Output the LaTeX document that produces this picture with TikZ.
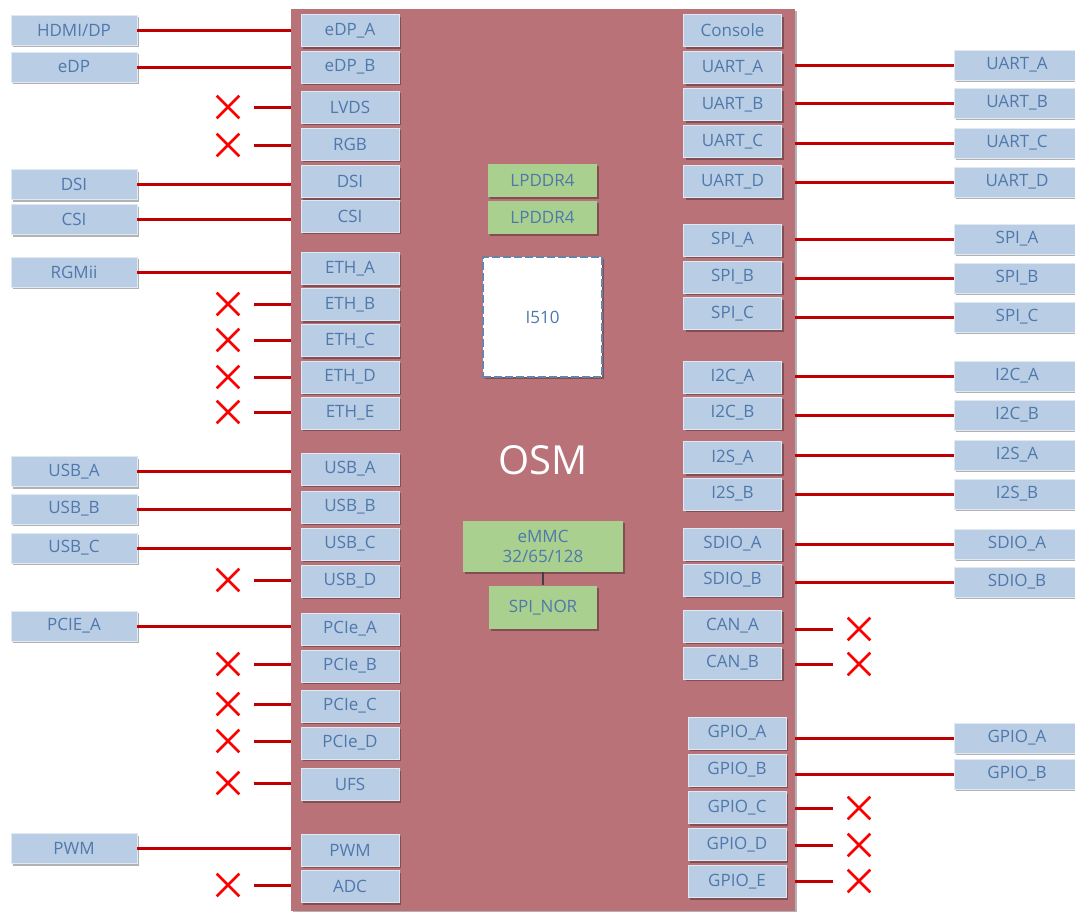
\documentclass[tikz,border=0pt]{standalone}
\usepackage{fontspec}
\setmainfont{Open Sans}
\usepackage{xcolor}
\usepackage{tikz}
\usetikzlibrary{positioning,shapes.misc,shadows}

\definecolor{osmred}{RGB}{185,114,119}
\definecolor{portblue}{RGB}{185,205,229}
\definecolor{txtblue}{RGB}{79,120,172}
\definecolor{memgreen}{RGB}{169,208,142}
\definecolor{wirered}{RGB}{192,0,0}
\definecolor{xred}{RGB}{250,0,0}
\definecolor{dashblue}{RGB}{100,132,172}

\begin{document}
\begin{tikzpicture}[
  x=0.5pt, y=-0.5pt,
  font=\fontsize{8.5}{10}\selectfont,
  boxshadow/.style={drop shadow={shadow xshift=1.2pt,shadow yshift=-1.2pt,opacity=0.3,fill=black}},
  osm/.style={fill=osmred,text=white,minimum width=252pt,minimum height=451pt,
    font=\fontsize{20}{24}\selectfont,boxshadow},
  port/.style={fill=portblue,draw=white!55!portblue,line width=0.3pt,text=txtblue,
    minimum width=49pt,minimum height=16pt,inner sep=0pt,boxshadow},
  ext/.style={port,minimum width=63pt,minimum height=15pt},
  mem/.style={fill=memgreen,text=txtblue,minimum width=54.5pt,minimum height=16.5pt,
    inner sep=0pt,boxshadow},
  chip/.style={fill=white,draw=dashblue,line width=0.8pt,dash pattern=on 4pt off 1.5pt,
    text=txtblue,minimum width=59.5pt,minimum height=60pt,boxshadow},
  nc/.style={cross out,draw=xred,line width=1.3pt,minimum size=10pt,inner sep=0pt},
  wire/.style={wirered,line width=1.5pt},
  stub/.style={wire,shorten >=7.5pt},
  tie/.style={black!75,line width=0.6pt}
]
\useasboundingbox (0,0) rectangle (1075,911);

\node[osm] (osm) at (543,460) {OSM};

\node[mem] (ddrA) at (542.5,180.5) {LPDDR4};
\node[mem,below=1.5pt of ddrA] (ddrB) {LPDDR4};
\node[chip] (soc) at (542.5,317) {I510};
\node[mem,minimum width=80pt,minimum height=25.5pt,align=center] (emmc) at (543,546.5)
  {eMMC\\32/65/128};
\node[mem,minimum width=54pt,minimum height=21.5pt,below=6.5pt of emmc] (spinor) {SPI\_NOR};
\draw[tie] (emmc) -- (spinor);

\node[port] (edpA) at (350,30.5) {eDP\_A};
\node[port] (edpB) at (350,67) {eDP\_B};
\node[port] (lvds) at (350,107) {LVDS};
\node[port] (rgb) at (350,144) {RGB};
\node[port] (dsi) at (350,181.5) {DSI};
\node[port] (csi) at (350,216) {CSI};
\node[port] (ethA) at (350,268.5) {ETH\_A};
\node[port] (ethB) at (350,304.5) {ETH\_B};
\node[port] (ethC) at (350,340.5) {ETH\_C};
\node[port] (ethD) at (350,377) {ETH\_D};
\node[port] (ethE) at (350,413) {ETH\_E};
\node[port] (usbA) at (350,469) {USB\_A};
\node[port] (usbB) at (350,507) {USB\_B};
\node[port] (usbC) at (350,544) {USB\_C};
\node[port] (usbD) at (350,581) {USB\_D};
\node[port] (pcieA) at (350,629) {PCIe\_A};
\node[port] (pcieB) at (350,666) {PCIe\_B};
\node[port] (pcieC) at (350,706) {PCIe\_C};
\node[port] (pcieD) at (350,743) {PCIe\_D};
\node[port] (ufs) at (350,784.5) {UFS};
\node[port] (pwm) at (350,850) {PWM};
\node[port] (adc) at (350,886.5) {ADC};

\node[ext] (hdmiExt) at (74,30) {HDMI/DP};
\node[ext] (edpExt) at (74,67) {eDP};
\node[ext] (dsiExt) at (74,184.5) {DSI};
\node[ext] (csiExt) at (74,219.5) {CSI};
\node[ext] (rgmiiExt) at (74,272) {RGMii};
\node[ext] (usbAExt) at (74,471.5) {USB\_A};
\node[ext] (usbBExt) at (74,509) {USB\_B};
\node[ext] (usbCExt) at (74,548) {USB\_C};
\node[ext] (pcieExt) at (74,626) {PCIE\_A};
\node[ext] (pwmExt) at (74,848.5) {PWM};

\node[nc] (xLvds) at (228,107) {};
\node[nc] (xRgb) at (228,145) {};
\node[nc] (xEthB) at (228,304) {};
\node[nc] (xEthC) at (228,340) {};
\node[nc] (xEthD) at (228,377) {};
\node[nc] (xEthE) at (228,412) {};
\node[nc] (xUsbD) at (228,580) {};
\node[nc] (xPcieB) at (228,664) {};
\node[nc] (xPcieC) at (228,704) {};
\node[nc] (xPcieD) at (228,741) {};
\node[nc] (xUfs) at (228,783) {};
\node[nc] (xAdc) at (228,885) {};

\draw[wire] (hdmiExt.east) -- (hdmiExt.east -| osm.west);
\draw[wire] (edpExt.east) -- (edpExt.east -| osm.west);
\draw[wire] (dsiExt.east) -- (dsiExt.east -| osm.west);
\draw[wire] (csiExt.east) -- (csiExt.east -| osm.west);
\draw[wire] (rgmiiExt.east) -- (rgmiiExt.east -| osm.west);
\draw[wire] (usbAExt.east) -- (usbAExt.east -| osm.west);
\draw[wire] (usbBExt.east) -- (usbBExt.east -| osm.west);
\draw[wire] (usbCExt.east) -- (usbCExt.east -| osm.west);
\draw[wire] (pcieExt.east) -- (pcieExt.east -| osm.west);
\draw[wire] (pwmExt.east) -- (pwmExt.east -| osm.west);

\draw[stub] (xLvds -| osm.west) -- (xLvds);
\draw[stub] (xRgb -| osm.west) -- (xRgb);
\draw[stub] (xEthB -| osm.west) -- (xEthB);
\draw[stub] (xEthC -| osm.west) -- (xEthC);
\draw[stub] (xEthD -| osm.west) -- (xEthD);
\draw[stub] (xEthE -| osm.west) -- (xEthE);
\draw[stub] (xUsbD -| osm.west) -- (xUsbD);
\draw[stub] (xPcieB -| osm.west) -- (xPcieB);
\draw[stub] (xPcieC -| osm.west) -- (xPcieC);
\draw[stub] (xPcieD -| osm.west) -- (xPcieD);
\draw[stub] (xUfs -| osm.west) -- (xUfs);
\draw[stub] (xAdc -| osm.west) -- (xAdc);

\node[port] (console) at (732.5,30.5) {Console};
\node[port] (uartA) at (732.5,67.5) {UART\_A};
\node[port] (uartB) at (732.5,104.5) {UART\_B};
\node[port] (uartC) at (732.5,141.5) {UART\_C};
\node[port] (uartD) at (732.5,181.5) {UART\_D};
\node[port] (spiA) at (732.5,240) {SPI\_A};
\node[port] (spiB) at (732.5,277) {SPI\_B};
\node[port] (spiC) at (732.5,313.5) {SPI\_C};
\node[port] (i2cA) at (732.5,377) {I2C\_A};
\node[port] (i2cB) at (732.5,413) {I2C\_B};
\node[port] (i2sA) at (732.5,457.5) {I2S\_A};
\node[port] (i2sB) at (732.5,494) {I2S\_B};
\node[port] (sdioA) at (732.5,544) {SDIO\_A};
\node[port] (sdioB) at (732.5,580) {SDIO\_B};
\node[port] (canA) at (732.5,626) {CAN\_A};
\node[port] (canB) at (732.5,663) {CAN\_B};
\node[port] (gpioA) at (737,733) {GPIO\_A};
\node[port] (gpioB) at (737,770) {GPIO\_B};
\node[port] (gpioC) at (737,807.5) {GPIO\_C};
\node[port] (gpioD) at (737,844.5) {GPIO\_D};
\node[port] (gpioE) at (737,881.5) {GPIO\_E};

\node[ext] (uartAExt) at (1017,65) {UART\_A};
\node[ext] (uartBExt) at (1017,103) {UART\_B};
\node[ext] (uartCExt) at (1017,143) {UART\_C};
\node[ext] (uartDExt) at (1017,182) {UART\_D};
\node[ext] (spiAExt) at (1017,239) {SPI\_A};
\node[ext] (spiBExt) at (1017,278) {SPI\_B};
\node[ext] (spiCExt) at (1017,317) {SPI\_C};
\node[ext] (i2cAExt) at (1017,376) {I2C\_A};
\node[ext] (i2cBExt) at (1017,415) {I2C\_B};
\node[ext] (i2sAExt) at (1017,455) {I2S\_A};
\node[ext] (i2sBExt) at (1017,494) {I2S\_B};
\node[ext] (sdioAExt) at (1017,544) {SDIO\_A};
\node[ext] (sdioBExt) at (1017,582) {SDIO\_B};
\node[ext] (gpioAExt) at (1017,738) {GPIO\_A};
\node[ext] (gpioBExt) at (1017,774) {GPIO\_B};

\node[nc] (xCanA) at (859,629) {};
\node[nc] (xCanB) at (859,664) {};
\node[nc] (xGpioC) at (859,808) {};
\node[nc] (xGpioD) at (859,845) {};
\node[nc] (xGpioE) at (859,881) {};

\draw[wire] (uartAExt.west -| osm.east) -- (uartAExt.west);
\draw[wire] (uartBExt.west -| osm.east) -- (uartBExt.west);
\draw[wire] (uartCExt.west -| osm.east) -- (uartCExt.west);
\draw[wire] (uartDExt.west -| osm.east) -- (uartDExt.west);
\draw[wire] (spiAExt.west -| osm.east) -- (spiAExt.west);
\draw[wire] (spiBExt.west -| osm.east) -- (spiBExt.west);
\draw[wire] (spiCExt.west -| osm.east) -- (spiCExt.west);
\draw[wire] (i2cAExt.west -| osm.east) -- (i2cAExt.west);
\draw[wire] (i2cBExt.west -| osm.east) -- (i2cBExt.west);
\draw[wire] (i2sAExt.west -| osm.east) -- (i2sAExt.west);
\draw[wire] (i2sBExt.west -| osm.east) -- (i2sBExt.west);
\draw[wire] (sdioAExt.west -| osm.east) -- (sdioAExt.west);
\draw[wire] (sdioBExt.west -| osm.east) -- (sdioBExt.west);
\draw[wire] (gpioAExt.west -| osm.east) -- (gpioAExt.west);
\draw[wire] (gpioBExt.west -| osm.east) -- (gpioBExt.west);

\draw[stub] (xCanA -| osm.east) -- (xCanA);
\draw[stub] (xCanB -| osm.east) -- (xCanB);
\draw[stub] (xGpioC -| osm.east) -- (xGpioC);
\draw[stub] (xGpioD -| osm.east) -- (xGpioD);
\draw[stub] (xGpioE -| osm.east) -- (xGpioE);
\end{tikzpicture}
\end{document}
